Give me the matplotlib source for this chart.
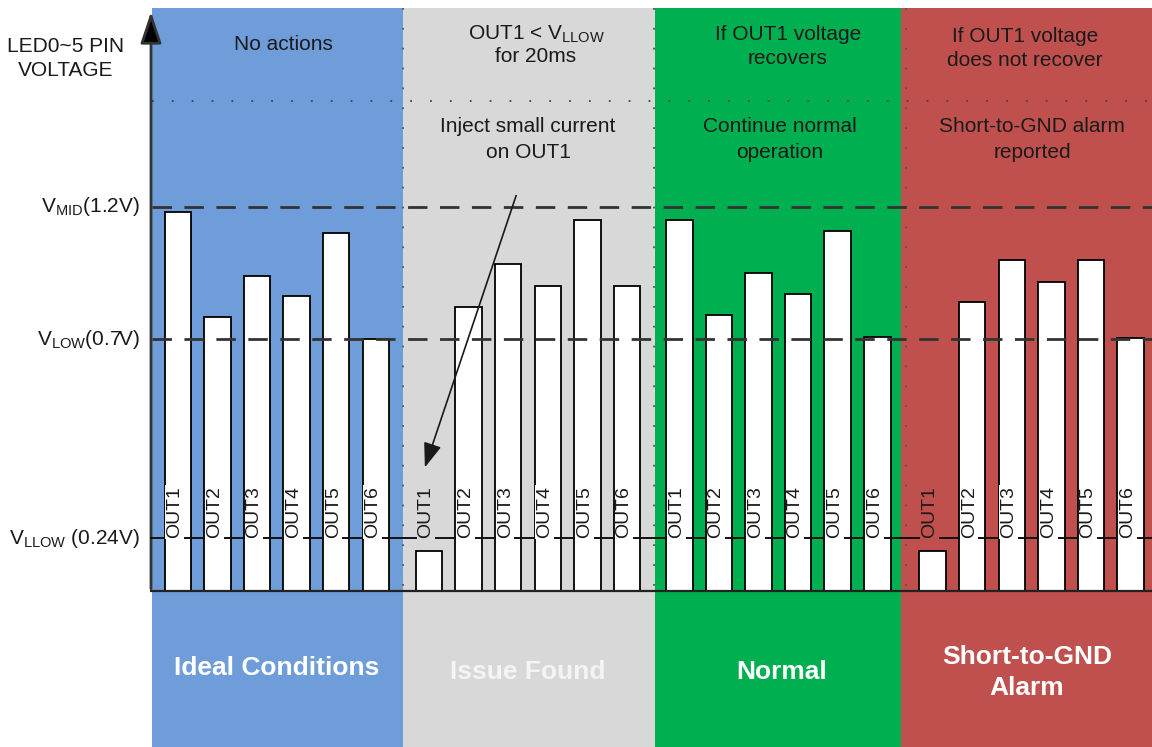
import numpy as np
import matplotlib.pyplot as plt

plt.rcParams['font.family'] = ['Liberation Sans', 'DejaVu Sans']
plt.rcParams['mathtext.fontset'] = 'custom'
plt.rcParams['mathtext.rm'] = 'Liberation Sans'
plt.rcParams['mathtext.it'] = 'Liberation Sans:italic'
plt.rcParams['mathtext.bf'] = 'Liberation Sans:bold'

salidas = ["OUT1", "OUT2", "OUT3", "OUT4", "OUT5", "OUT6"]
v_ideal = [1.18, 0.785, 0.94, 0.865, 1.10, 0.70]
v_issue = [0.18, 0.82, 0.985, 0.90, 1.15, 0.90]
v_normal = [1.15, 0.79, 0.95, 0.87, 1.11, 0.71]
v_alarm = [0.18, 0.84, 1.0, 0.915, 1.0, 0.705]
valores = [v_ideal, v_issue, v_normal, v_alarm]

niveles = [1.2, 0.7, 0.24]
etiquetas_niveles = [r'V$_{\mathrm{MID}}$(1.2V)', r'V$_{\mathrm{LOW}}$(0.7V)',
                     r'V$_{\mathrm{LLOW}}$ (0.24V)']

estados = [["Ideal Conditions"], ["Issue Found"], ["Normal"], ["Short-to-GND", "Alarm"]]
acciones = [["No actions"],
            [r"OUT1 < V$_{\mathrm{LLOW}}$", "for 20ms"],
            ["If OUT1 voltage", "recovers"],
            ["If OUT1 voltage", "does not recover"]]
respuestas = [[], ["Inject small current", "on OUT1"],
              ["Continue normal", "operation"],
              ["Short-to-GND alarm", "reported"]]

# ---- disposicion (pixeles) ----
bordes = [152, 403, 655, 901, 1152]
colores = ['#6f9dd9', '#d8d8d8', '#00b050', '#c0504d']
color_estado = ['white', '#f4f4f4', 'white', 'white']
x_acc = [283, 536, 788, 1025]
y_acc = [[44], [34, 57], [35, 59], [37, 61]]
x_resp = [0, 528, 780, 1032]
x_est = [277, 528, 782, 1027]
y_est = [[668], [672], [672], [657, 688]]
primera_barra = [164.5, 415.7, 666.0, 919.3]
paso = 39.6
ancho = 26.5
base_px = 590.5

fig = plt.figure(figsize=(11.52, 7.47), dpi=100)

# ejes de fondo en pixeles
ax_bg = fig.add_axes([0, 0, 1, 1])
ax_bg.set_xlim(0, 1152)
ax_bg.set_ylim(747, 0)
ax_bg.axis('off')

# ejes de las barras: eje y en voltios con escala por tramos
kv = np.array([-5, 0, 0.24, 0.7, 1.2, 6])
kp = np.array([-5 * 218.75, 0, 52.5, 251.2, 383.8, 383.8 + 4.8 * 265.2])

def adelante(v):
    return np.interp(v, kv, kp)

def atras(p):
    return np.interp(p, kp, kv)

ax = fig.add_axes([0, 0, 1, 1])
ax.patch.set_alpha(0)
ax.set_yscale('function', functions=(adelante, atras))
ax.set_xlim(0, 1152)
ax.set_ylim(atras(-(747 - base_px)), atras(base_px))
ax.axis('off')

# paneles de color
for i in range(4):
    ax_bg.fill_between([bordes[i], bordes[i + 1]], 8, 747, color=colores[i], lw=0)

# linea punteada horizontal y verticales
ax_bg.hlines(101, 152, 1152, colors='#444444', lw=1.3, linestyles=(0, (1, 10)))
ax_bg.vlines([403, 654, 906], 8, base_px, colors='#555555', lw=1.3, linestyles=(0, (1, 10)))

# eje vertical con flecha
ax_bg.annotate('', xy=(151, 9), xytext=(151, base_px + 1),
               arrowprops=dict(arrowstyle='-|>,head_length=1.95,head_width=0.65',
                               mutation_scale=10, lw=2, color='#333333', fc='black'))

# textos de la parte superior
for i in range(4):
    for linea, y in zip(acciones[i], y_acc[i]):
        ax_bg.text(x_acc[i], y, linea, ha='center', va='center', fontsize=15, color='#1a1a1a')
    for j, linea in enumerate(respuestas[i]):
        ax_bg.text(x_resp[i], 127 + 25 * j, linea, ha='center', va='center', fontsize=15,
                   color='#1a1a1a')
    for linea, y in zip(estados[i], y_est[i]):
        ax_bg.text(x_est[i], y, linea, ha='center', va='center', fontsize=19,
                   fontweight='bold', color=color_estado[i])

# etiquetas del eje
ax_bg.text(66, 47, "LED0~5 PIN", ha='center', va='center', fontsize=15, color='#1a1a1a')
ax_bg.text(66, 71, "VOLTAGE", ha='center', va='center', fontsize=15, color='#1a1a1a')
for nv, et in zip(niveles, etiquetas_niveles):
    ax.text(140, nv, et, ha='right', va='center', fontsize=15, color='#1a1a1a')

# barras
for i in range(4):
    xs = primera_barra[i] + paso * np.arange(len(salidas))
    ax.bar(xs, valores[i], width=ancho, align='edge', color='white',
           edgecolor='black', lw=1.3, zorder=2)
    for x, v, s in zip(xs, valores[i], salidas):
        fondo = 'white' if v > 0.5 else colores[i]
        ax.text(x + ancho / 2 - 3, niveles[2], s, rotation=90, ha='center', va='bottom',
                fontsize=14, color='#1a1a1a', zorder=6,
                bbox=dict(fc=fondo, ec='none', pad=0.6))

# niveles de referencia
ax.hlines(niveles[:2], 152, 1152, colors='#333333', lw=2, linestyles=(0, (7, 4.5)), zorder=4)
ax.hlines(niveles[2], 150, 1152, colors='#111111', lw=1.4, zorder=4)
ax.hlines(0, 150, 1152, colors='#222222', lw=1.6, zorder=4)

# flecha del panel "Issue Found"
ax.annotate('', xy=(424, 470), xycoords=ax_bg.transData,
            xytext=(517, 193), textcoords=ax_bg.transData,
            arrowprops=dict(arrowstyle='-|>,head_length=1.5,head_width=0.55',
                            mutation_scale=10, lw=1.2, color='#1a1a1a'),
            zorder=7)

fig.savefig('out.png', dpi=100)
